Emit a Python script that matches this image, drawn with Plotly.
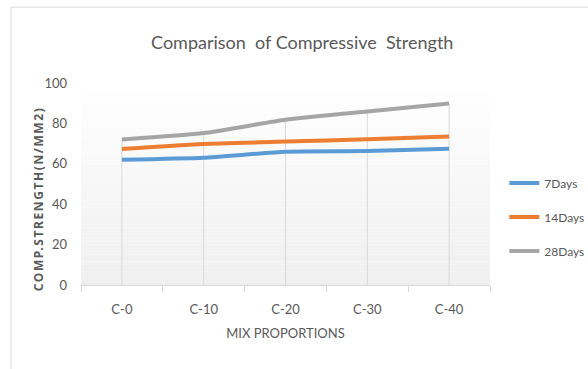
import plotly.graph_objects as go

# Mix proportions and compressive strengths (N/mm2) at each curing age
mixes = ["C-0", "C-10", "C-20", "C-30", "C-40"]
days7 = [62.0, 63.0, 66.0, 66.3, 67.4]
days14 = [67.3, 69.8, 71.0, 72.1, 73.5]
days28 = [72.0, 75.2, 81.8, 85.9, 89.8]

series = [
    ("7Days", days7, "#5B9BD5"),
    ("14Days", days14, "#ED7D31"),
    ("28Days", days28, "#A5A5A5"),
]

FONT = "Lato, sans-serif"
GREY_TXT = "#595959"

fig = go.Figure()
for i, (name, vals, col) in enumerate(series):
    fig.add_trace(go.Scatter(
        x=mixes, y=vals, name=name, mode="lines",
        line=dict(color=col, width=4, shape="spline", smoothing=0.5),
        legendgroup=str(i),
    ))

shapes = []
# plot-area vertical gradient (white at top to light grey at bottom)
n = 60
for k in range(n):
    t = (k + 0.5) / n
    v = int(round(255 - (255 - 239) * (1 - t)))
    shapes.append(dict(
        type="rect", xref="x domain", yref="y domain",
        x0=0, x1=1, y0=k / n, y1=(k + 1) / n,
        fillcolor=f"rgb({v},{v},{v})", line=dict(width=0), layer="below",
    ))
# drop lines from the axis up to the highest series at each mix
for j, m in enumerate(mixes):
    top = max(s[1][j] for s in series)
    shapes.append(dict(
        type="line", xref="x", yref="y", x0=m, x1=m, y0=0, y1=top,
        line=dict(color="#d9d9d9", width=1), layer="below",
    ))
# chart frame
shapes.append(dict(
    type="rect", xref="paper", yref="paper",
    x0=-0.171, x1=1.5, y0=-1.0, y1=1.376,
    line=dict(color="#d9d9d9", width=1), fillcolor="rgba(0,0,0,0)",
))

fig.update_layout(
    width=588, height=369,
    margin=dict(l=81, r=98, t=83, b=84, autoexpand=False),
    paper_bgcolor="white", plot_bgcolor="white",
    font=dict(family=FONT, color=GREY_TXT, size=13),
    title=dict(
        text="Comparison  of Compressive  Strength",
        x=0.514, xref="container", xanchor="center",
        y=1 - 43 / 369, yref="container", yanchor="middle",
        font=dict(family=FONT, size=18, color=GREY_TXT),
    ),
    xaxis=dict(
        type="category", range=[-0.5, len(mixes) - 0.5],
        tickson="boundaries", ticks="outside",
        ticklen=6, tickcolor="#d9d9d9", showgrid=False,
        showline=True, linecolor="#d9d9d9", linewidth=1,
        ticklabelstandoff=12,
        tickfont=dict(size=13, color=GREY_TXT),
        title=dict(text="MIX PROPORTIONS", standoff=13,
                   font=dict(size=13, color=GREY_TXT)),
        zeroline=False, automargin=False,
    ),
    yaxis=dict(
        range=[0, 100], dtick=20, showgrid=False, zeroline=False,
        showline=False, ticks="", ticklabelstandoff=13,
        tickfont=dict(size=13, color=GREY_TXT), automargin=False,
    ),
    legend=dict(
        x=1.035, xanchor="left", y=0.337, yanchor="middle",
        font=dict(size=12, color=GREY_TXT), tracegroupgap=15,
        bgcolor="rgba(0,0,0,0)",
    ),
    shapes=shapes,
    annotations=[dict(
        text='<span style="letter-spacing:1.6px"><b>COMP.STRENGTH(N/MM2)</b></span>',
        textangle=-90,
        xref="paper", yref="paper", x=-0.105, y=0.425,
        xanchor="center", yanchor="middle", showarrow=False,
        font=dict(family="Noto Sans, sans-serif", size=12, color=GREY_TXT),
    )],
)

fig.write_html("out.html")
